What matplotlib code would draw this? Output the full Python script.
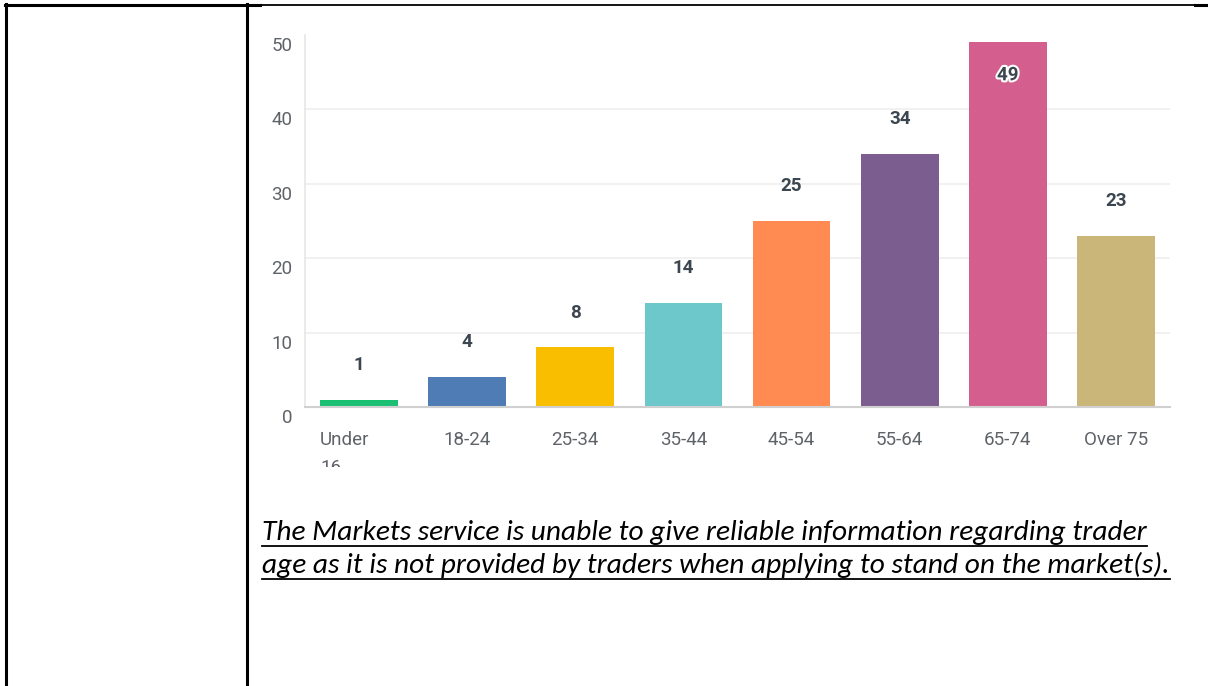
import matplotlib
matplotlib.use("Agg")
import matplotlib.pyplot as plt
from matplotlib import font_manager
from matplotlib.transforms import Bbox, TransformedBbox
import matplotlib.transforms as mtrans
import matplotlib.patheffects as pe
from matplotlib.lines import Line2D

categories = ["Under\n16", "18-24", "25-34", "35-44", "45-54", "55-64", "65-74", "Over 75"]
values = [1, 4, 8, 14, 25, 34, 49, 23]
colors = ["#1bbf72", "#4f7cb5", "#f9be00", "#6cc8cb", "#ff8b52", "#7b5d8f", "#d45f8e", "#c9b678"]
yticks = [0, 10, 20, 30, 40, 50]
note_lines = ["The Markets service is unable to give reliable information regarding trader",
              "age as it is not provided by traders when applying to stand on the market(s)."]

W, H = 1208, 686
fig = plt.figure(figsize=(W / 100, H / 100), dpi=100)

avail = {f.name for f in font_manager.fontManager.ttflist}
chart_font = "Roboto" if "Roboto" in avail else "DejaVu Sans"
note_font = "DejaVu Sans"
for cand in ["Carlito", "Roboto Condensed", "Liberation Sans Narrow", "Lato", "Open Sans"]:
    if cand in avail:
        note_font = cand
        break

def fx(px):
    return px / W

def fy(py):
    return 1 - py / H

def hline(x0, x1, y, lw):
    fig.add_artist(Line2D([fx(x0), fx(x1)], [fy(y), fy(y)], color="black", lw=lw, transform=fig.transFigure))

def vline(x, y0, y1, lw):
    fig.add_artist(Line2D([fx(x), fx(x)], [fy(y0), fy(y1)], color="black", lw=lw, transform=fig.transFigure))

# table borders
hline(5, 260, 5.2, 2.2)
hline(260, 1195, 5.0, 1.3)
hline(1195, 1208, 5.2, 2.2)
vline(6, 4, 686, 2.2)
vline(247, 4, 686, 2.2)

# chart axes
x0, x1 = 305, 1170
y_top, y_bot = 34.5, 407
ax = fig.add_axes([fx(x0), fy(y_bot), fx(x1) - fx(x0), fy(y_top) - fy(y_bot)])
ax.set_xlim(-0.5, len(categories) - 0.5)
ax.set_ylim(0, 50)

xs = list(range(len(categories)))
ax.bar(xs, values, width=0.72, color=colors, zorder=3)

for s in ["top", "right"]:
    ax.spines[s].set_visible(False)
ax.spines["left"].set_color("#e6e6e6")
ax.spines["left"].set_linewidth(1.2)
ax.spines["bottom"].set_color("#d0d0d0")
ax.spines["bottom"].set_linewidth(1.5)
ax.spines["bottom"].set_zorder(4)

for t in yticks[1:-1]:
    ax.axhline(t, color="#efefef", lw=1.2, zorder=1)

label_color = "#5f6368"
ax.set_yticks(yticks)
ax.set_yticklabels([str(t) for t in yticks])
ax.tick_params(axis="y", length=0, pad=9, labelsize=13.5, labelcolor=label_color)
offset = mtrans.ScaledTranslation(0, -1.5 / 72, fig.dpi_scale_trans)
for lab in ax.get_yticklabels():
    lab.set_fontfamily(chart_font)
    lab.set_verticalalignment("top")
    lab.set_transform(lab.get_transform() + offset)

ax.set_xticks([])
clip = TransformedBbox(Bbox([[0, fy(467)], [1, 1]]), fig.transFigure)
for x, c in zip(xs, categories):
    if "\n" in c:
        t = ax.text(x - 0.36, 0, c, ha="left", va="top",
                    fontsize=13.5, color=label_color, family=chart_font, linespacing=1.7)
    else:
        t = ax.text(x, 0, c, ha="center", va="top",
                    fontsize=13.5, color=label_color, family=chart_font)
    t.set_transform(ax.get_xaxis_transform() + mtrans.ScaledTranslation(0, -24 / 100, fig.dpi_scale_trans))
    t.set_clip_box(clip)
    t.set_clip_on(True)

for x, v in zip(xs, values):
    if v >= 45:
        ax.annotate(str(v), (x, v), xytext=(0, -24), textcoords="offset points", ha="center", va="center",
                    fontsize=13.5, fontweight="bold", color="#3c4650", family=chart_font, zorder=5,
                    path_effects=[pe.withStroke(linewidth=3, foreground="white")])
    else:
        ax.annotate(str(v), (x, v), xytext=(0, 25), textcoords="offset points", ha="center", va="center",
                    fontsize=13.5, fontweight="bold", color="#3c4650", family=chart_font, zorder=5)

# footnote text, italic underlined
fig.canvas.draw()
renderer = fig.canvas.get_renderer()
target_w = 1146 - 262
baselines = [540, 573]
probe = fig.text(0, 0, note_lines[0], fontsize=20, style="italic", family=note_font)
w = probe.get_window_extent(renderer).width
probe.remove()
fs = 20 * target_w / w
for line, by in zip(note_lines, baselines):
    t = fig.text(fx(262), fy(by), line, fontsize=fs, style="italic", family=note_font,
                 ha="left", va="baseline", color="black")
    bb = t.get_window_extent(renderer)
    uy = by + 6
    fig.add_artist(Line2D([fx(262), fx(262 + bb.width)], [fy(uy), fy(uy)], color="black", lw=1.3,
                          transform=fig.transFigure))

fig.savefig("out.png", dpi=100, facecolor="white")
